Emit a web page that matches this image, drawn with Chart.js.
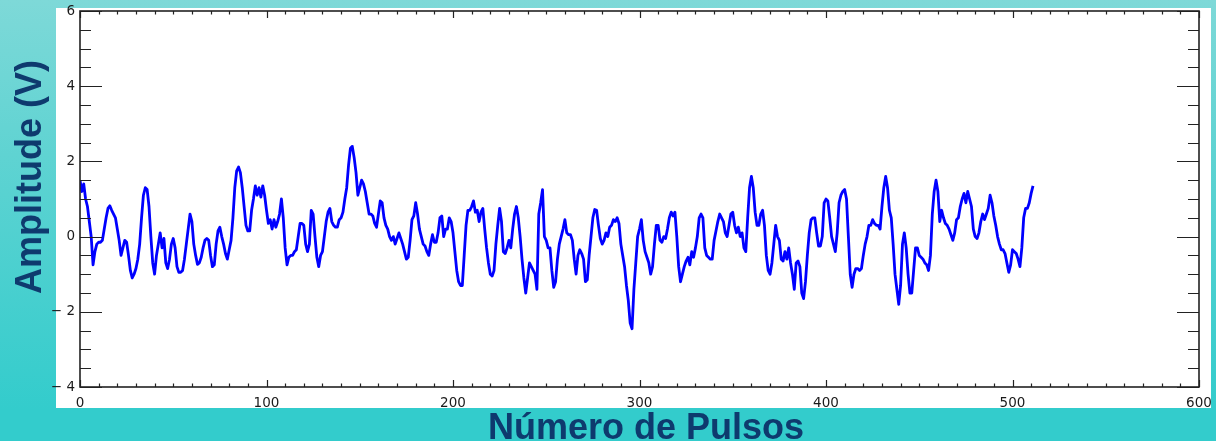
<!DOCTYPE html>
<html>
<head>
<meta charset="utf-8">
<script src="https://cdn.jsdelivr.net/npm/chart.js@4.4.1/dist/chart.umd.min.js"></script>
<style>
  html, body { margin: 0; padding: 0; }
  body {
    width: 1216px; height: 441px; overflow: hidden; position: relative;
    background: linear-gradient(to bottom, #7ed9d8 0%, #5fd3d2 35%, #33cccc 93%, #33cccc 100%);
    font-family: "Liberation Sans", Arial, sans-serif;
  }
  #panel { position: absolute; left: 56px; top: 8px; width: 1155px; height: 400px; background: #ffffff; }
  #chart { position: absolute; left: 0; top: 0; }
  .axis-title {
    position: absolute; color: #0e3a6e; font-weight: bold; font-size: 36px;
    line-height: 1; white-space: nowrap;
  }
  #xTitle { left: 646px; top: 427px; transform: translate(-50%, -50%); }
  #yTitle { left: 29px; top: 177px; transform: translate(-50%, -50%) rotate(-90deg); }
</style>
</head>
<body>
<div id="panel"></div>
<canvas id="chart" width="1216" height="441"></canvas>
<div class="axis-title" id="xTitle">Número de Pulsos</div>
<div class="axis-title" id="yTitle">Amplitude (V)</div>
<script>
// Amplitude (V) of each pulse, pulse number = array index
const amplitude = [
  1.5, 1.2, 1.4, 1.0, 0.8, 0.4, 0.0, -0.75, -0.4, -0.2, -0.15, -0.15, -0.1, 0.2, 0.5, 0.75, 0.82, 0.7, 0.6, 0.5,
  0.2, -0.1, -0.5, -0.3, -0.1, -0.15, -0.5, -0.9, -1.1, -1.0, -0.85, -0.6, -0.2, 0.5, 1.1, 1.3, 1.25, 0.8, 0.0, -0.7,
  -1.0, -0.5, -0.2, 0.1, -0.3, -0.05, -0.7, -0.85, -0.6, -0.2, -0.05, -0.3, -0.8, -0.95, -0.95, -0.9, -0.6, -0.2, 0.2, 0.6,
  0.4, -0.2, -0.5, -0.74, -0.7, -0.55, -0.3, -0.1, -0.05, -0.1, -0.5, -0.8, -0.75, -0.2, 0.15, 0.25, 0.0, -0.2, -0.45, -0.6,
  -0.35, -0.1, 0.5, 1.3, 1.75, 1.85, 1.7, 1.3, 0.8, 0.3, 0.15, 0.15, 0.7, 1.0, 1.35, 1.1, 1.3, 1.05, 1.35, 1.1,
  0.7, 0.35, 0.45, 0.2, 0.45, 0.25, 0.4, 0.6, 1.0, 0.5, -0.3, -0.75, -0.55, -0.5, -0.5, -0.4, -0.35, 0.0, 0.35, 0.35,
  0.3, -0.2, -0.4, -0.2, 0.7, 0.6, 0.0, -0.55, -0.8, -0.5, -0.4, 0.0, 0.4, 0.65, 0.75, 0.4, 0.3, 0.25, 0.25, 0.45,
  0.5, 0.65, 1.0, 1.3, 1.9, 2.35, 2.4, 2.1, 1.7, 1.1, 1.3, 1.5, 1.4, 1.2, 0.9, 0.6, 0.6, 0.55, 0.35, 0.25,
  0.6, 0.95, 0.9, 0.5, 0.3, 0.2, 0.0, -0.1, 0.0, -0.2, -0.05, 0.1, -0.05, -0.2, -0.4, -0.6, -0.55, -0.1, 0.45, 0.55,
  0.9, 0.6, 0.2, 0.0, -0.2, -0.25, -0.4, -0.5, -0.2, 0.05, -0.15, -0.15, 0.1, 0.5, 0.55, 0.0, 0.2, 0.2, 0.5, 0.4,
  0.1, -0.4, -0.9, -1.2, -1.3, -1.3, -0.5, 0.3, 0.7, 0.7, 0.8, 0.95, 0.65, 0.7, 0.4, 0.65, 0.75, 0.2, -0.3, -0.7,
  -1.0, -1.05, -0.9, -0.2, 0.3, 0.75, 0.4, -0.4, -0.45, -0.3, -0.1, -0.3, 0.2, 0.6, 0.8, 0.5, 0.0, -0.6, -1.1, -1.5,
  -1.1, -0.7, -0.8, -0.9, -1.0, -1.4, 0.6, 0.9, 1.25, 0.0, -0.1, -0.3, -0.3, -0.9, -1.35, -1.2, -0.6, -0.2, 0.0, 0.2,
  0.45, 0.1, 0.05, 0.05, -0.1, -0.6, -1.0, -0.5, -0.35, -0.45, -0.6, -1.2, -1.15, -0.5, 0.0, 0.5, 0.72, 0.7, 0.3, -0.05,
  -0.2, -0.1, 0.1, 0.0, 0.25, 0.3, 0.45, 0.4, 0.5, 0.35, -0.2, -0.5, -0.8, -1.3, -1.7, -2.3, -2.45, -1.4, -0.7, 0.0,
  0.2, 0.45, -0.1, -0.4, -0.55, -0.7, -1.0, -0.8, -0.2, 0.3, 0.3, -0.1, -0.15, 0.0, -0.05, 0.2, 0.5, 0.65, 0.55, 0.65,
  0.0, -0.8, -1.2, -1.0, -0.8, -0.65, -0.55, -0.75, -0.4, -0.55, -0.3, 0.0, 0.5, 0.6, 0.5, -0.3, -0.5, -0.55, -0.6, -0.6,
  -0.1, 0.15, 0.4, 0.6, 0.5, 0.4, 0.1, 0.0, 0.3, 0.6, 0.65, 0.3, 0.1, 0.25, 0.0, 0.1, -0.3, -0.4, 0.5, 1.3,
  1.6, 1.3, 0.65, 0.3, 0.3, 0.6, 0.7, 0.3, -0.5, -0.9, -1.0, -0.7, -0.2, 0.3, 0.0, -0.1, -0.6, -0.65, -0.4, -0.6,
  -0.3, -0.7, -1.0, -1.4, -0.7, -0.65, -0.8, -1.5, -1.65, -1.2, -0.5, 0.1, 0.45, 0.5, 0.5, 0.1, -0.25, -0.25, 0.0, 0.9,
  1.0, 0.95, 0.5, 0.0, -0.2, -0.4, 0.1, 0.9, 1.1, 1.2, 1.25, 1.0, 0.0, -1.0, -1.35, -1.0, -0.85, -0.85, -0.9, -0.85,
  -0.5, -0.2, 0.0, 0.3, 0.3, 0.45, 0.35, 0.3, 0.3, 0.2, 0.8, 1.3, 1.6, 1.3, 0.7, 0.5, -0.2, -1.0, -1.4, -1.8,
  -1.3, -0.2, 0.1, -0.3, -1.0, -1.5, -1.5, -0.9, -0.3, -0.3, -0.5, -0.55, -0.6, -0.7, -0.75, -0.9, -0.5, 0.6, 1.2, 1.5,
  1.2, 0.4, 0.7, 0.5, 0.35, 0.3, 0.2, 0.05, -0.1, 0.1, 0.45, 0.5, 0.8, 1.0, 1.15, 0.9, 1.2, 1.0, 0.8, 0.2,
  0.0, -0.05, 0.1, 0.4, 0.6, 0.45, 0.6, 0.75, 1.1, 0.9, 0.55, 0.3, 0.0, -0.2, -0.35, -0.35, -0.45, -0.7, -0.95, -0.75,
  -0.35, -0.4, -0.45, -0.6, -0.8, -0.3, 0.5, 0.75, 0.75, 0.9, 1.15, 1.35
];

// Labelled (major) tick values; minor ticks fall every 10 pulses / 0.5 V
const xMajorTicks = [0, 100, 200, 300, 400, 500, 600];
const yMajorTicks = [-4, -2, 0, 2, 4, 6];

const points = amplitude.map((v, i) => ({ x: i, y: v }));

function signed(v) {
  return v < 0 ? '\u2212 ' + Math.abs(v) : String(v);
}

// Box frame with inward major/minor tick marks on all four sides
const frameTicks = {
  id: 'frameTicks',
  afterDatasetsDraw(chart) {
    const { ctx, chartArea: a, scales: { x, y } } = chart;
    ctx.save();
    ctx.strokeStyle = '#222';
    ctx.lineWidth = 1.2;
    ctx.beginPath();
    x.ticks.forEach(t => {
      const px = Math.round(x.getPixelForValue(t.value)) + 0.5;
      const len = xMajorTicks.includes(t.value) ? 7 : 3.5;
      ctx.moveTo(px, a.bottom); ctx.lineTo(px, a.bottom - len);
      ctx.moveTo(px, a.top); ctx.lineTo(px, a.top + len);
    });
    y.ticks.forEach(t => {
      const py = Math.round(y.getPixelForValue(t.value)) + 0.5;
      const len = yMajorTicks.includes(t.value) ? 22 : 11;
      ctx.moveTo(a.left, py); ctx.lineTo(a.left + len, py);
      ctx.moveTo(a.right, py); ctx.lineTo(a.right - len, py);
    });
    ctx.stroke();
    ctx.lineWidth = 1.6;
    ctx.strokeRect(a.left, a.top, a.right - a.left, a.bottom - a.top);
    ctx.restore();
  }
};

const tickFont = { family: '"DejaVu Sans", sans-serif', size: 13.5 };

new Chart(document.getElementById('chart'), {
  type: 'line',
  data: {
    datasets: [{
      data: points,
      borderColor: '#0000ff',
      borderWidth: 2.8,
      borderJoinStyle: 'round',
      pointRadius: 0,
      tension: 0,
      fill: false
    }]
  },
  options: {
    responsive: false,
    animation: false,
    devicePixelRatio: 1,
    layout: { padding: { left: 0, top: 11, right: 17, bottom: 0 } },
    plugins: { legend: { display: false }, tooltip: { enabled: false } },
    scales: {
      x: {
        type: 'linear', min: 0, max: 600,
        afterFit(s) { s.height = 54; s.paddingLeft = 0; s.paddingRight = 0; },
        grid: { display: false, drawTicks: false }, border: { display: false },
        ticks: {
          stepSize: 10, autoSkip: false, maxRotation: 0, maxTicksLimit: 100,
          padding: 8, color: '#1a1a1a', font: tickFont,
          callback: v => xMajorTicks.includes(v) ? String(v) : ''
        }
      },
      y: {
        type: 'linear', min: -4, max: 6,
        afterFit(s) { s.width = 80; s.paddingTop = 0; s.paddingBottom = 0; },
        grid: { display: false, drawTicks: false }, border: { display: false },
        ticks: {
          stepSize: 0.5, autoSkip: false, maxTicksLimit: 100,
          padding: 5, color: '#1a1a1a', font: tickFont,
          callback: v => yMajorTicks.includes(v) ? signed(v) : ''
        }
      }
    }
  },
  plugins: [frameTicks]
});
</script>
</body>
</html>
